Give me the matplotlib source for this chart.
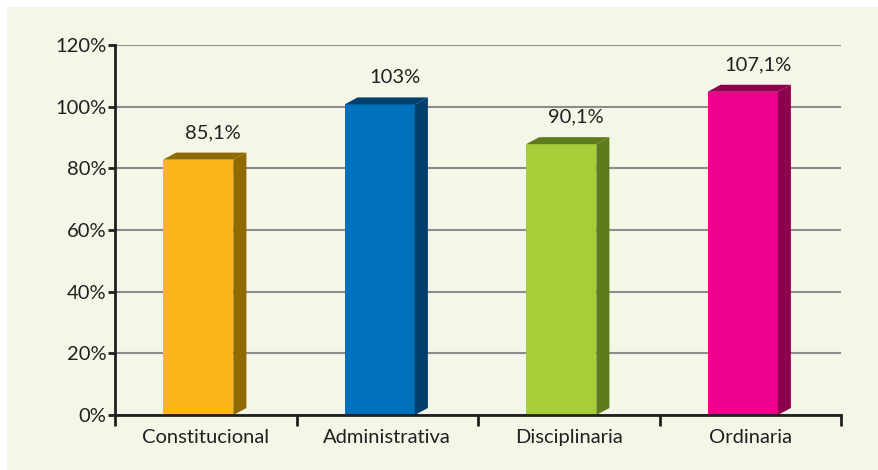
import matplotlib
matplotlib.use("Agg")
import matplotlib.pyplot as plt
from matplotlib.patches import Rectangle

categories = ["Constitucional", "Administrativa", "Disciplinaria", "Ordinaria"]
values = [85.1, 103, 90.1, 107.1]
labels = ["85,1%", "103%", "90,1%", "107,1%"]
front_colors = ["#FBB516", "#0070BA", "#A7CD39", "#EC008C"]
dark_colors = ["#8F6A00", "#003F6E", "#5E7B1C", "#8E004F"]
yticks = [0, 20, 40, 60, 80, 100, 120]

plt.rcParams["font.family"] = ["Lato", "DejaVu Sans"]
text_color = "#231F20"
fs = 14.5

fig = plt.figure(figsize=(8.79, 4.70), dpi=100)
fig.patch.set_facecolor("white")
fig.patches.append(Rectangle((7 / 879, 0), 1, 1 - 7 / 470, transform=fig.transFigure,
                             facecolor="#F3F7E8", edgecolor="none", zorder=-10))

ax = fig.add_axes([115 / 879, 1 - 415 / 470, (841 - 115) / 879, (415 - 45) / 470])
ax.set_facecolor("none")

# bar geometry (data units)
left_off = -0.235
right_off = 0.152
dx = 0.072
dy = 2.27

for i, v in enumerate(values):
    x0 = i + left_off
    x1 = i + right_off
    top = v - dy
    ax.bar(x0, top, width=x1 - x0, align="edge", color=front_colors[i], zorder=3)
    # side face
    ax.fill([x1, x1 + dx, x1 + dx, x1], [0, dy, v, top], color=dark_colors[i], zorder=3, lw=0)
    # top face
    ax.fill([x0, x0 + dx, x1 + dx, x1], [top, v, v, top], color=dark_colors[i], zorder=3, lw=0)
    ax.annotate(labels[i], (i + 0.04, v), xytext=(0, 14.5), textcoords="offset points",
                ha="center", va="center", fontsize=fs, color=text_color)

ax.set_xlim(-0.5, 3.5)
ax.set_ylim(0, 120)
ax.set_yticks(yticks)
ax.set_yticklabels([f"{t}%" for t in yticks])
ax.set_xticks(range(len(categories)))
ax.set_xticklabels(categories)
ax.set_xticks([-0.5, 0.5, 1.5, 2.5, 3.5], minor=True)
ax.tick_params(axis="x", which="major", length=0, pad=10, labelsize=fs, labelcolor=text_color)
ax.tick_params(axis="x", which="minor", length=8, width=2, color=text_color)
ax.tick_params(axis="y", length=5, width=2, color=text_color, pad=1,
               labelsize=fs, labelcolor=text_color)

ax.grid(axis="y", color="#8C8C8C", linewidth=1.5, zorder=0)
ax.set_axisbelow(True)
for s in ["top", "right"]:
    ax.spines[s].set_visible(False)
for s in ["left", "bottom"]:
    ax.spines[s].set_color(text_color)
    ax.spines[s].set_linewidth(2)
    ax.spines[s].set_zorder(4)

fig.savefig("out.png", dpi=100)
